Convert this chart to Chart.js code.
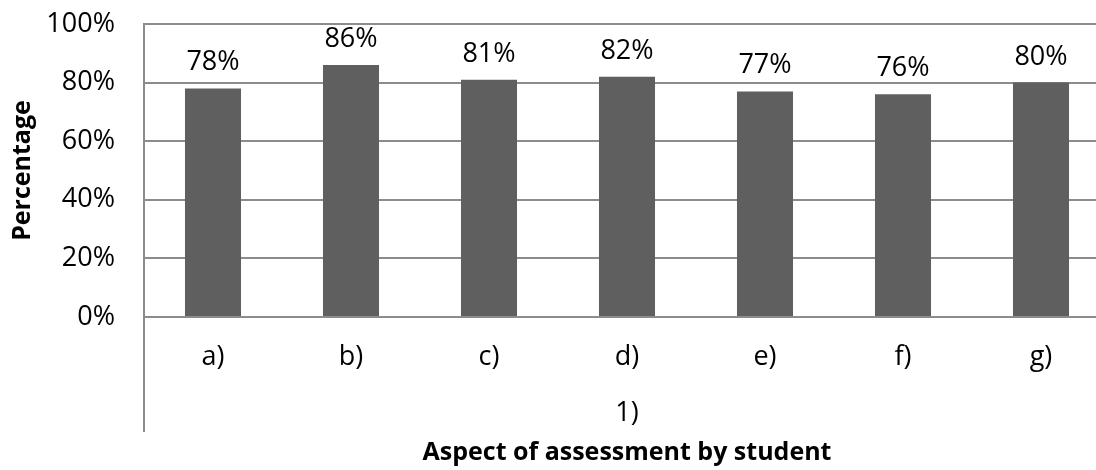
<!DOCTYPE html>
<html>
<head>
<meta charset="utf-8">
<title>Aspect of assessment by student</title>
<script src="https://cdn.jsdelivr.net/npm/chart.js@4/dist/chart.umd.min.js"></script>
<style>
  html, body { margin: 0; padding: 0; background: #ffffff; overflow: hidden; width: 1096px; height: 470px; }
  #wrap { position: relative; width: 1120px; height: 470px; }
</style>
</head>
<body>
<div id="wrap"><canvas id="chart" width="1120" height="470"></canvas></div>
<script>
// Category labels, group label and the share of students per aspect (in %)
const categories = ['a)', 'b)', 'c)', 'd)', 'e)', 'f)', 'g)'];
const groupLabels = ['1)'];
const percentages = [78, 86, 81, 82, 77, 76, 80];
const yTicks = [0, 20, 40, 60, 80, 100];

const FONT = '"Open Sans", "Noto Sans", sans-serif';
const GRID = '#8c8c8c';
const LABEL_SIZE = 27;
const TITLE_SIZE = 25;
const GROUP_ROW = 47;   // height of the "1)" label row

// Percentage labels above each bar
const valueLabels = {
  id: 'valueLabels',
  afterDatasetsDraw(chart) {
    const ctx = chart.ctx;
    const meta = chart.getDatasetMeta(0);
    ctx.save();
    ctx.font = LABEL_SIZE + 'px ' + FONT;
    ctx.fillStyle = '#000000';
    ctx.textAlign = 'center';
    ctx.textBaseline = 'alphabetic';
    meta.data.forEach((bar, i) => {
      ctx.fillText(percentages[i] + '%', bar.x, bar.y - 18);
    });
    ctx.restore();
  }
};

// Left axis line continues down through the category label rows
const groupDivider = {
  id: 'groupDivider',
  afterDraw(chart) {
    const ctx = chart.ctx;
    const area = chart.chartArea;
    const x2 = chart.scales.x2;
    ctx.save();
    ctx.strokeStyle = GRID;
    ctx.lineWidth = 2;
    ctx.beginPath();
    ctx.moveTo(area.left, area.bottom);
    ctx.lineTo(area.left, x2.top + GROUP_ROW);
    ctx.stroke();
    ctx.restore();
  }
};

new Chart(document.getElementById('chart'), {
  type: 'bar',
  data: {
    labels: categories,
    datasets: [{
      data: percentages,
      backgroundColor: '#5f5f5f',
      borderWidth: 0,
      barPercentage: 0.406,
      categoryPercentage: 1.0
    }]
  },
  options: {
    responsive: false,
    animation: false,
    devicePixelRatio: 1,
    layout: { padding: { top: 24, right: 10, left: 0, bottom: 0 } },
    plugins: {
      legend: { display: false },
      tooltip: { enabled: false }
    },
    scales: {
      y: {
        min: 0,
        max: 100,
        afterBuildTicks(scale) { scale.ticks = yTicks.map(v => ({ value: v })); },
        afterFit(scale) {
          scale.width = 144;
          scale.paddingTop = 0;
          scale.paddingBottom = 0;
        },
        ticks: {
          color: '#000000',
          font: { family: FONT, size: LABEL_SIZE },
          padding: 29,
          callback: v => v + '%'
        },
        grid: { color: GRID, lineWidth: 2, drawTicks: false },
        border: { color: GRID, width: 2 },
        title: {
          display: true,
          text: 'Percentage',
          color: '#000000',
          font: { family: FONT, size: TITLE_SIZE, weight: 'bold', lineHeight: 1.2 },
          padding: { top: 8, bottom: 0 }
        }
      },
      x: {
        offset: true,
        afterFit(scale) {
          scale.height = 68;
          scale.paddingLeft = 0;
          scale.paddingRight = 0;
        },
        ticks: {
          color: '#000000',
          font: { family: FONT, size: LABEL_SIZE },
          padding: 24,
          maxRotation: 0
        },
        grid: { display: false, drawTicks: false },
        border: { color: GRID, width: 2 }
      },
      x2: {
        type: 'category',
        position: 'bottom',
        labels: groupLabels,
        offset: true,
        afterFit(scale) {
          scale.height = 85;
          scale.paddingLeft = 0;
          scale.paddingRight = 0;
        },
        ticks: {
          color: '#000000',
          font: { family: FONT, size: LABEL_SIZE },
          padding: 12,
          maxRotation: 0
        },
        grid: { display: false, drawTicks: false },
        border: { display: false },
        title: {
          display: true,
          text: 'Aspect of assessment by student',
          color: '#000000',
          font: { family: FONT, size: TITLE_SIZE, weight: 'bold', lineHeight: 1.2 },
          padding: { top: 0, bottom: 2 }
        }
      }
    }
  },
  plugins: [valueLabels, groupDivider]
});
</script>
</body>
</html>
